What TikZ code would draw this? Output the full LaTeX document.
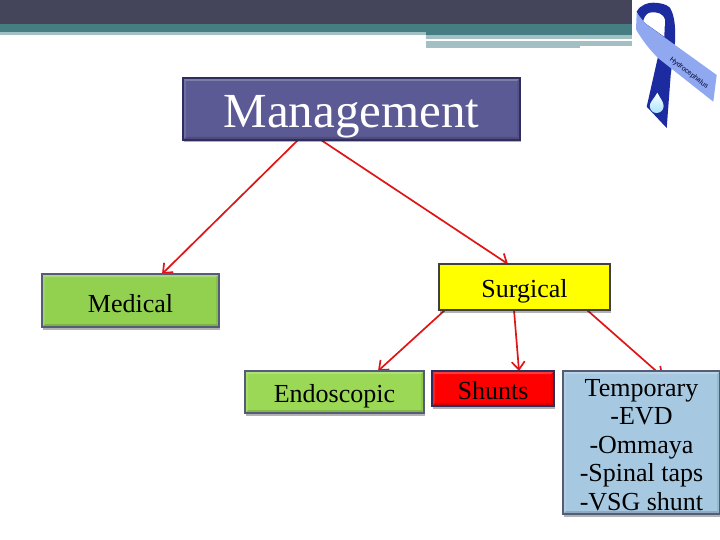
\documentclass[tikz,border=0pt]{standalone}
\usepackage{fontspec}
\setmainfont{Liberation Serif}
\newfontfamily\ribbonfont{Liberation Sans}
\usetikzlibrary{calc,shadows,arrows.meta}
\pgfdeclarelayer{base}
\pgfdeclarelayer{conn}
\pgfsetlayers{base,conn,main}
\definecolor{bandDark}{HTML}{44445A}
\definecolor{bandTeal}{HTML}{467D82}
\definecolor{bandLight}{HTML}{A2BFC3}
\definecolor{mgmtFill}{HTML}{5C5A94}
\definecolor{mgmtEdge}{HTML}{2E2D5E}
\definecolor{medFill}{HTML}{92D050}
\definecolor{endoFill}{HTML}{9BD855}
\definecolor{tempFill}{HTML}{A6C8E0}
\definecolor{boxEdge}{HTML}{565B78}
\definecolor{ribDark}{HTML}{1C2CA0}
\definecolor{ribLight}{HTML}{8FA8F0}
\definecolor{linkRed}{HTML}{E01515}
\definecolor{pureYellow}{HTML}{FFFF00}
\definecolor{pureRed}{HTML}{FF0000}
\newcommand\lowertext[2]{\raisebox{-#1}[\height][\depth]{#2}}
\tikzset{
  x=1pt,y=-1pt,
  flatbox/.style={draw=boxEdge,line width=1.3pt,inner sep=0pt,outer sep=0pt,align=center,
    text=black,font=\fontsize{26}{28.5}\selectfont},
  softshadow/.style={drop shadow={shadow xshift=1pt,shadow yshift=-2.5pt,opacity=.3,fill=black}},
  bevelbox/.style={flatbox,softshadow,
    path picture={
      \fill[white,opacity=.22] (path picture bounding box.north west) -- (path picture bounding box.north east)
        -- ++(-3pt,-3pt) -- ($(path picture bounding box.north west)+(3pt,-3pt)$) -- cycle;
      \fill[black,opacity=.15] (path picture bounding box.south west) -- (path picture bounding box.south east)
        -- ++(-3pt,3pt) -- ($(path picture bounding box.south west)+(3pt,3pt)$) -- cycle;
      \fill[black,opacity=.08] (path picture bounding box.north east) -- (path picture bounding box.south east)
        -- ++(-3pt,3pt) -- ($(path picture bounding box.north east)+(-3pt,-3pt)$) -- cycle;
      \fill[white,opacity=.12] (path picture bounding box.north west) -- (path picture bounding box.south west)
        -- ++(3pt,3pt) -- ($(path picture bounding box.north west)+(3pt,-3pt)$) -- cycle;
    }},
  link/.style={draw=linkRed,line width=1.7pt,-{Straight Barb[length=8pt,width=13pt,line width=1.7pt]}},
}
\begin{document}
\begin{tikzpicture}
\useasboundingbox (0,0) rectangle (720,540);
\begin{pgfonlayer}{base}
\fill[white] (0,0) rectangle (720,540);
\fill[bandDark] (0,0) rectangle (632,24);
\fill[bandTeal] (0,24) rectangle (632,32);
\fill[bandLight] (0,32) rectangle (426,35);
\fill[bandTeal] (426,32) rectangle (632,35);
\fill[bandLight] (426,35) rectangle (632,39);
\fill[bandLight] (426,41) rectangle (580,48.5);
\fill[bandLight] (580,41) rectangle (632,46);
% ribbon
\fill[ribDark] (636.7,11.7) .. controls (640,5) and (648,2.5) .. (653.3,2.7)
  .. controls (664,3) and (671,6) .. (672,12) .. controls (676,22) and (675,35) .. (675,42)
  -- (670.7,75) -- (666.7,128) -- (646.7,106.7) -- (658,56.7) -- cycle;
\fill[white] (643.3,20.7) .. controls (645,15) and (648,12.7) .. (651,12.5)
  .. controls (657,12) and (663,13) .. (665,20) -- (664.3,36.7) -- (645,23) -- cycle;
\fill[ribLight] (636.7,12.7) -- (636,29.3) .. controls (642,40) and (650,50) .. (658,58) -- (713.3,101.7) -- (716.7,75) -- (675,45) -- (645,23.3) -- cycle;
\node[rotate=-38,font=\ribbonfont\fontsize{7}{8}\selectfont,text=black!80!blue,inner sep=0pt] (ribbontext) at (689,73) {Hydrocephalus};
\shade[top color=white,bottom color=blue!30!cyan!35] (657.3,92.7) .. controls (654,99) and (649.8,102) .. (649.8,106)
  .. controls (649.8,110) and (653,113) .. (656.7,113) .. controls (660.5,113) and (663.6,110) .. (663.6,106)
  .. controls (663.6,102) and (660,98) .. (657.3,92.7) -- cycle;
\end{pgfonlayer}

\node[bevelbox,draw=mgmtEdge,fill=mgmtFill,text=white,font=\fontsize{49}{52}\selectfont,minimum width=337pt,minimum height=62pt] (mgmt) at (351.5,109) {\lowertext{8pt}{Management}};
\node[bevelbox,fill=medFill,minimum width=177pt,minimum height=53pt] (medical) at (130.5,300.5) {\lowertext{3pt}{Medical}};
\node[flatbox,draw=black!75,fill=pureYellow,softshadow,minimum width=171pt,minimum height=46pt] (surgical) at (524.5,287) {\lowertext{4pt}{Surgical}};
\node[bevelbox,fill=endoFill,minimum width=179pt,minimum height=42pt] (endo) at (334.5,392) {\lowertext{4pt}{Endoscopic}};
\node[bevelbox,draw=mgmtEdge,fill=pureRed,minimum width=122pt,minimum height=35pt] (shunts) at (493,388.5) {\lowertext{2pt}{Shunts}};
\node[bevelbox,fill=tempFill,minimum width=157pt,minimum height=143pt] (temp) at (641.5,442.5) {\rule{0pt}{22pt}Temporary\\-EVD\\-Ommaya\\-Spinal taps\\-VSG shunt};

\begin{pgfonlayer}{conn}
\draw[link] ($(mgmt.south west)+(115,0)$) -- ($(medical.north west)+(120,0)$);
\draw[link] ($(mgmt.south west)+(138,0)$) -- ($(surgical.north west)+(69,0)$);
\draw[link] ($(surgical.south west)+(6,0)$) -- ($(endo.north west)+(133,0)$);
\draw[link] ($(surgical.south west)+(75,0)$) -- ($(shunts.north west)+(87,0)$);
\draw[link] ($(surgical.south west)+(148,0)$) -- ($(temp.north west)+(100,6)$);
\end{pgfonlayer}
\end{tikzpicture}
\end{document}
